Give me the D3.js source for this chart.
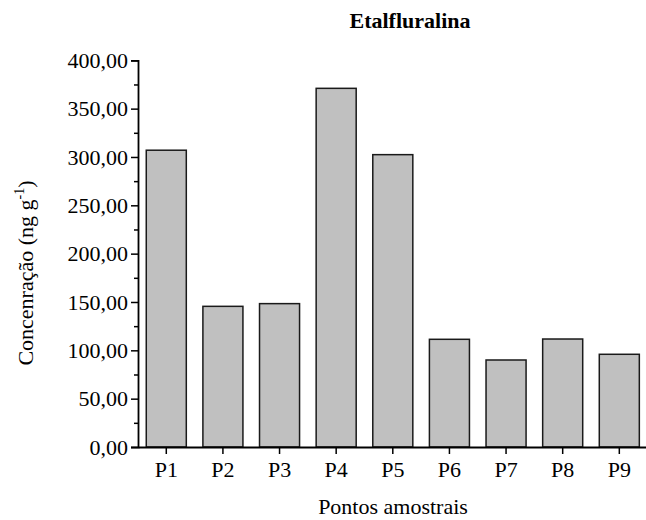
<!DOCTYPE html>
<html>
<head>
<meta charset="utf-8">
<script src="https://cdn.jsdelivr.net/npm/d3@7"></script>
<style>
  html, body { margin: 0; padding: 0; background: #fff; }
  svg { display: block; }
</style>
</head>
<body>
<svg id="chart" width="646" height="520"></svg>
<script>
// Sampling points and measured concentrations (ng g-1)
const categories = ["P1", "P2", "P3", "P4", "P5", "P6", "P7", "P8", "P9"];
const values = [307, 145.5, 148.3, 371, 302.4, 111.4, 90, 111.7, 95.9];
const yMajorTicks = [0, 50, 100, 150, 200, 250, 300, 350, 400];
const yMinorTicks = [25, 75, 125, 175, 225, 275, 325, 375];
const title = "Etalfluralina";
const xTitle = "Pontos amostrais";

const serif = '"Liberation Serif", "Times New Roman", Times, serif';
const svg = d3.select("#chart")
  .style("font-family", serif);
const plotLeft = 138, plotRight = 647.6, plotBottom = 447, plotTop = 60.3;

const x = d3.scaleBand()
  .domain(categories)
  .range([plotLeft, plotRight])
  .paddingInner(0.293)
  .paddingOuter(0.146);

const y = d3.scaleLinear()
  .domain([0, 400])
  .range([plotBottom, plotTop]);

const fmt = v => d3.format(".2f")(v).replace(".", ",");

// Bars
svg.append("g")
  .selectAll("rect")
  .data(values)
  .join("rect")
  .attr("x", (d, i) => x(categories[i]))
  .attr("y", d => y(d))
  .attr("width", x.bandwidth())
  .attr("height", d => y(0) - y(d))
  .attr("fill", "#c0c0c0")
  .attr("stroke", "#1a1a1a")
  .attr("stroke-width", 1.5);

// Y axis (major ticks with labels)
const yAxis = svg.append("g")
  .attr("transform", `translate(${plotLeft},0)`)
  .call(d3.axisLeft(y).tickValues(yMajorTicks).tickFormat(fmt).tickSize(7).tickPadding(3))
  .attr("font-family", serif)
  .attr("font-size", 22);
yAxis.select(".domain").attr("stroke", "#000").attr("stroke-width", 1.8);
yAxis.selectAll(".tick line").attr("stroke", "#000").attr("stroke-width", 1.5);
yAxis.selectAll(".tick text").attr("fill", "#000");

// Y axis minor ticks
svg.append("g")
  .attr("transform", `translate(${plotLeft},0)`)
  .call(d3.axisLeft(y).tickValues(yMinorTicks).tickFormat("").tickSize(4))
  .call(g => g.select(".domain").remove())
  .selectAll(".tick line").attr("stroke", "#000").attr("stroke-width", 1.5);

// X axis
const xAxis = svg.append("g")
  .attr("transform", `translate(0,${plotBottom})`)
  .call(d3.axisBottom(x).tickSize(7).tickPadding(7).tickSizeOuter(0))
  .attr("font-family", serif)
  .attr("font-size", 22);
xAxis.select(".domain").attr("stroke", "#000").attr("stroke-width", 1.8);
xAxis.selectAll(".tick line").attr("stroke", "#000").attr("stroke-width", 1.5);
xAxis.selectAll(".tick text").attr("fill", "#000");

// Title
svg.append("text")
  .attr("x", 410).attr("y", 28)
  .attr("text-anchor", "middle")
  .attr("font-family", serif)
  .attr("font-size", 22)
  .attr("font-weight", "bold")
  .text(title);

// X axis title
svg.append("text")
  .attr("x", 393).attr("y", 514)
  .attr("text-anchor", "middle")
  .attr("font-family", serif)
  .attr("font-size", 22)
  .text(xTitle);

// Y axis title with superscript unit
const yt = svg.append("text")
  .attr("transform", "translate(33,273) rotate(-90)")
  .attr("text-anchor", "middle")
  .attr("font-family", serif)
  .attr("font-size", 22);
yt.append("tspan").text("Concenração (ng g");
yt.append("tspan").attr("dy", -9).attr("font-size", 14).text("-1");
yt.append("tspan").attr("dy", 9).text(")");
</script>
</body>
</html>
